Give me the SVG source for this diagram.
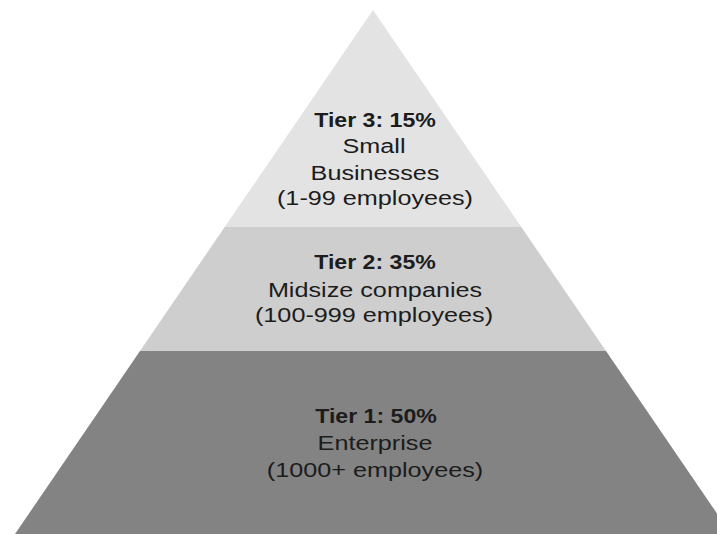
<svg xmlns="http://www.w3.org/2000/svg" width="717" height="534" viewBox="0 0 717 534">
  <style>
    .lbl { font-family: "Liberation Sans", Arial, Helvetica, sans-serif; font-size: 21px; fill: #1c1c1c; text-anchor: middle; }
    .ttl { font-weight: bold; }
    .t3 { fill: #e3e3e3; }
    .t2 { fill: #cecece; }
    .t1 { fill: #838383; }
  </style>
  <rect width="717" height="534" fill="#ffffff"/>
  <g id="tier3">
    <polygon class="t3" points="373,10 521.3,227 224.7,227"/>
    <text class="lbl ttl" transform="translate(375 127) scale(1.1 1)">Tier 3: 15%</text>
    <text class="lbl" transform="translate(374 153) scale(1.2 1)">Small</text>
    <text class="lbl" transform="translate(375 180) scale(1.2 1)">Businesses</text>
    <text class="lbl" transform="translate(375 205) scale(1.2 1)">(1-99 employees)</text>
  </g>
  <g id="tier2">
    <polygon class="t2" points="224.7,227 521.3,227 606,351 140,351"/>
    <text class="lbl ttl" transform="translate(375 269) scale(1.1 1)">Tier 2: 35%</text>
    <text class="lbl" transform="translate(375 297) scale(1.2 1)">Midsize companies</text>
    <text class="lbl" transform="translate(374 322) scale(1.2 1)">(100-999 employees)</text>
  </g>
  <g id="tier1">
    <polygon class="t1" points="140,351 606,351 731,534 15,534"/>
    <text class="lbl ttl" transform="translate(376 423) scale(1.1 1)">Tier 1: 50%</text>
    <text class="lbl" transform="translate(375 450) scale(1.2 1)">Enterprise</text>
    <text class="lbl" transform="translate(375 477) scale(1.2 1)">(1000+ employees)</text>
  </g>
  <g id="connectors"></g>
</svg>
